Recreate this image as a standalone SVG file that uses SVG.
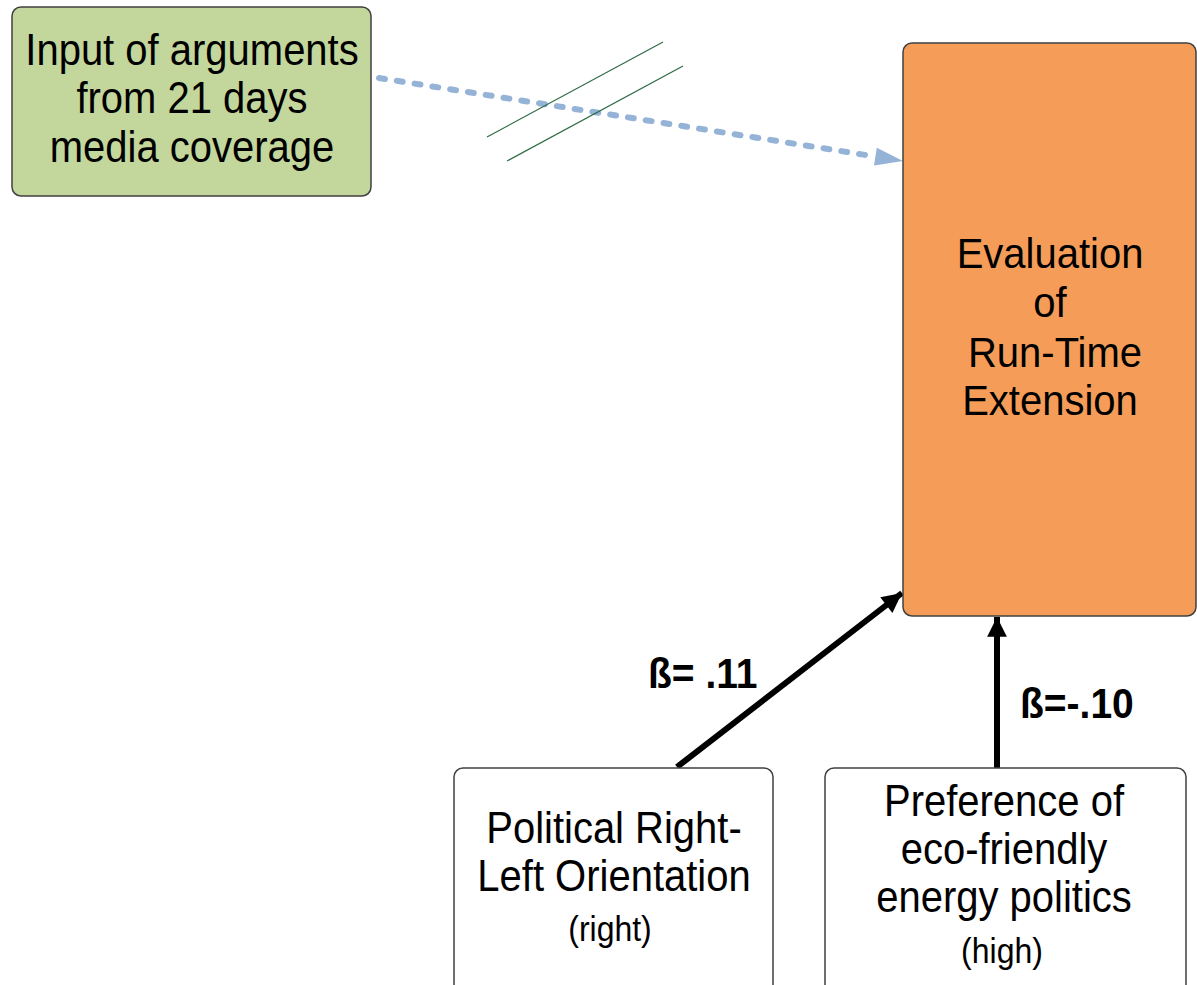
<svg xmlns="http://www.w3.org/2000/svg" width="1197" height="985" viewBox="0 0 1197 985">
<style>
.box{stroke:#404040;stroke-width:1.5}
.t{font-family:"Liberation Sans",Arial,sans-serif;font-size:40px;fill:#000;text-anchor:middle}
.s{font-family:"Liberation Sans",Arial,sans-serif;font-size:32px;fill:#000;text-anchor:middle}
.b{font-family:"Liberation Sans",Arial,sans-serif;font-size:39px;font-weight:bold;fill:#000}
</style>
<defs>
<marker id="ah" viewBox="0 0 10 10" refX="10" refY="5" markerWidth="4.4" markerHeight="3.3" markerUnits="strokeWidth" orient="auto">
<path d="M0,0 L10,5 L0,10 z" fill="#000"/>
</marker>
</defs>
<rect width="1197" height="985" fill="#fff"/>
<g id="connectors">
<line x1="379" y1="78" x2="872" y2="156" stroke="#95b3d7" stroke-width="6" stroke-linecap="round" stroke-dasharray="6 12"/>
<path d="M876.8,147.7 L903,161 L874,165.5 z" fill="#95b3d7"/>
<line x1="487" y1="137" x2="663" y2="42" stroke="#2e6b45" stroke-width="1.2"/>
<line x1="507" y1="161" x2="683" y2="66" stroke="#2e6b45" stroke-width="1.2"/>
<line x1="677" y1="767" x2="902" y2="593" stroke="#000" stroke-width="6" marker-end="url(#ah)"/>
<line x1="997" y1="768" x2="997" y2="617" stroke="#000" stroke-width="6" marker-end="url(#ah)"/>
</g>
<g id="input">
<rect class="box" x="12" y="7" width="359" height="189" rx="9" fill="#c3d69b"/>
<text class="t" transform="translate(192,65) scale(1,1.1)">Input of arguments</text>
<text class="t" transform="translate(192,113) scale(1,1.1)">from 21 days</text>
<text class="t" transform="translate(192,162) scale(1,1.1)">media coverage</text>
</g>
<g id="evaluation">
<rect class="box" x="903" y="43" width="293" height="573" rx="9" fill="#f59d58"/>
<text class="t" transform="translate(1050,268) scale(1,1.05)">Evaluation</text>
<text class="t" transform="translate(1050,317) scale(1,1.05)">of</text>
<text class="t" transform="translate(1055,367) scale(1,1.05)">Run-Time</text>
<text class="t" transform="translate(1050,415) scale(1,1.05)">Extension</text>
</g>
<g id="political">
<rect class="box" x="454" y="768" width="319" height="230" rx="9" fill="#fff"/>
<text class="t" transform="translate(614,843) scale(1,1.1)">Political Right-</text>
<text class="t" transform="translate(614,891) scale(1,1.1)">Left Orientation</text>
<text class="s" transform="translate(610,941) scale(1,1.1)">(right)</text>
</g>
<g id="preference">
<rect class="box" x="825" y="768" width="361" height="230" rx="9" fill="#fff"/>
<text class="t" transform="translate(1004,816) scale(1,1.1)">Preference of</text>
<text class="t" transform="translate(1004,864) scale(1,1.1)">eco-friendly</text>
<text class="t" transform="translate(1004,912) scale(1,1.1)">energy politics</text>
<text class="s" transform="translate(1002,963) scale(1,1.1)">(high)</text>
</g>
<g id="labels">
<text class="b" transform="translate(648,688) scale(1,1.1)">ß= .11</text>
<text class="b" transform="translate(1020,718) scale(1,1.1)">ß=-.10</text>
</g>
</svg>
